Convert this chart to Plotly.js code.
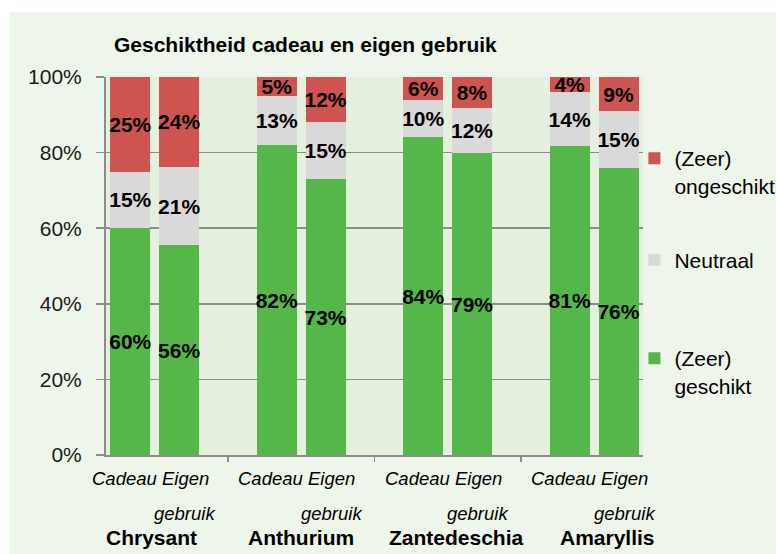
<!DOCTYPE html>
<html>
<head>
<meta charset="utf-8">
<script src="https://cdn.plot.ly/plotly-3.0.1.min.js"></script>
<style>
  html, body { margin: 0; padding: 0; background: #ffffff; }
  #chart { width: 776px; height: 554px; }
</style>
</head>
<body>
<div id="chart"></div>
<script>
// ---- data ----
var groups = ['Chrysant', 'Anthurium', 'Zantedeschia', 'Amaryllis'];
var uses = ['Cadeau', 'Eigen gebruik'];
var geschikt   = [60, 56, 82, 73, 84, 79, 81, 76];
var neutraal   = [15, 21, 13, 15, 10, 12, 14, 15];
var ongeschikt = [25, 24, 5, 12, 6, 8, 4, 9];
var seriesNames = ['(Zeer)<br>geschikt', 'Neutraal', '(Zeer)<br>ongeschikt'];
var yTicks = [0, 20, 40, 60, 80, 100];
var yTickText = ['0%', '20%', '40%', '60%', '80%', '100%'];
var titleText = 'Geschiktheid cadeau en eigen gebruik';

// ---- layout helpers ----
var FONT = 'Liberation Sans, Arial, sans-serif';
var xs = [];
groups.forEach(function (g, gi) {
  uses.forEach(function (u, ui) { xs.push(gi * 3 + ui); });
});
function pct(arr) { return arr.map(function (v) { return v + '%'; }); }

var colors = ['#55b74a', '#d9d9d9', '#cd5450'];
var seriesVals = [geschikt, neutraal, ongeschikt];
var legendIds = ['legend3', 'legend2', 'legend'];

var traces = seriesVals.map(function (vals, i) {
  return {
    type: 'bar',
    x: xs,
    y: vals,
    name: seriesNames[i],
    legend: legendIds[i],
    width: 0.82,
    marker: { color: colors[i], line: { width: 0 } },
    text: pct(vals),
    textposition: 'inside',
    insidetextanchor: 'middle',
    textangle: 0,
    constraintext: 'none',
    textfont: { family: FONT, size: 21, color: '#000000', weight: 'bold' },
    hoverinfo: 'skip'
  };
});

var annotations = [];
var groupShift = [-3, 0, 9, 13];
groups.forEach(function (g, gi) {
  annotations.push({
    text: '<b>' + g + '</b>', xref: 'x', yref: 'paper',
    x: gi * 3 + 0.5, y: -0.217, xshift: groupShift[gi], yanchor: 'middle',
    showarrow: false, font: { family: FONT, size: 21, color: '#000000' }
  });
  var parts = uses[1].split(' ');
  annotations.push({
    text: '<i>' + uses[0] + '</i>', xref: 'x', yref: 'paper',
    x: gi * 3, y: -0.062, xshift: -6, yanchor: 'middle',
    showarrow: false, font: { family: FONT, size: 18.5, color: '#000000' }
  });
  annotations.push({
    text: '<i>' + parts[0] + '</i>', xref: 'x', yref: 'paper',
    x: gi * 3 + 1, y: -0.062, xshift: 6, yanchor: 'middle',
    showarrow: false, font: { family: FONT, size: 18.5, color: '#000000' }
  });
  annotations.push({
    text: '<i>' + parts[1] + '</i>', xref: 'x', yref: 'paper',
    x: gi * 3 + 1, y: -0.154, xshift: 6, yanchor: 'middle',
    showarrow: false, font: { family: FONT, size: 18.5, color: '#000000' }
  });
});
annotations.push({
  text: '<b>' + titleText + '</b>', xref: 'paper', yref: 'paper',
  x: (305 - 106) / 537, y: 1 + (77 - 44) / 378, xanchor: 'center', yanchor: 'middle',
  showarrow: false, font: { family: FONT, size: 21, color: '#000000' }
});

function legendAt(yPaper) {
  return {
    x: 0.984, xanchor: 'left', y: yPaper, yanchor: 'middle',
    valign: 'top', bgcolor: 'rgba(0,0,0,0)', borderwidth: 0,
    font: { family: FONT, size: 21, color: '#000000' }
  };
}

var layout = {
  width: 776, height: 554,
  margin: { l: 106, r: 133, t: 77, b: 99, autoexpand: false },
  paper_bgcolor: '#eef5ea',
  plot_bgcolor: '#e6f0de',
  barmode: 'stack',
  barnorm: 'percent',
  bargap: 0,
  showlegend: true,
  legend: legendAt((455 - 172) / 378),
  legend2: legendAt((455 - 260) / 378),
  legend3: legendAt((455 - 372) / 378),
  font: { family: FONT, size: 21, color: '#1a1a1a' },
  xaxis: {
    range: [-0.5, 10.5],
    tickvals: [2, 5, 8],
    showticklabels: false,
    ticks: 'outside', ticklen: 5, tickcolor: '#8c8c8c', tickwidth: 1.5,
    showgrid: false, zeroline: false,
    showline: true, linecolor: '#8c8c8c', linewidth: 2,
    fixedrange: true
  },
  yaxis: {
    range: [0, 100],
    tickmode: 'array',
    tickvals: yTicks,
    ticktext: yTickText,
    ticks: 'outside', ticklen: 8, tickcolor: '#8c8c8c', tickwidth: 1.5,
    ticklabelstandoff: 10,
    showgrid: true, gridcolor: '#8c8c8c', gridwidth: 1.5,
    zeroline: false,
    showline: true, linecolor: '#8c8c8c', linewidth: 2,
    tickfont: { family: FONT, size: 21, color: '#1a1a1a' },
    fixedrange: true
  },
  annotations: annotations,
  shapes: [
    { type: 'rect', xref: 'paper', yref: 'paper', layer: 'below',
      x0: -106 / 537, x1: (776 - 106) / 537, y0: 1 + 65 / 378, y1: 1 + 77 / 378,
      fillcolor: '#ffffff', line: { width: 0 } },
    { type: 'rect', xref: 'paper', yref: 'paper', layer: 'below',
      x0: -106 / 537, x1: (10 - 106) / 537, y0: -99 / 378, y1: 1 + 77 / 378,
      fillcolor: '#ffffff', line: { width: 0 } }
  ]
};

Plotly.newPlot('chart', traces, layout, { displayModeBar: false, staticPlot: true });
</script>
</body>
</html>
